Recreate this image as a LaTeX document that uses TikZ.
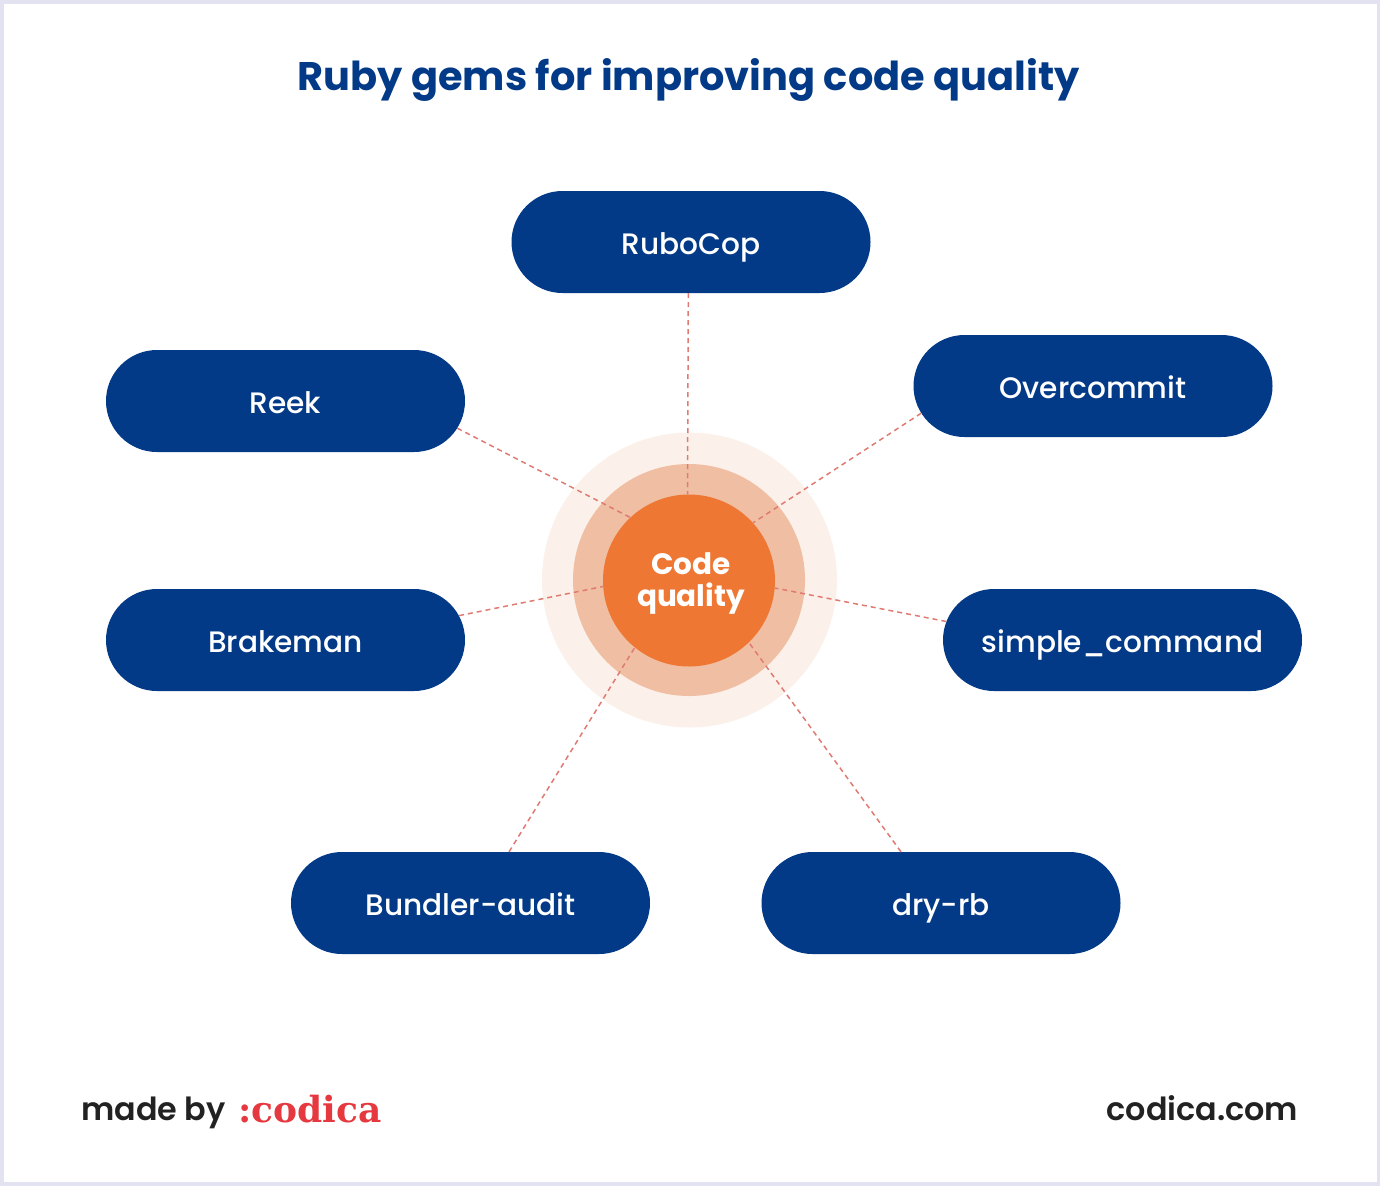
\documentclass[tikz,border=0pt]{standalone}
\usepackage{fontspec}
\usepackage{tikz}
\usetikzlibrary{positioning}
\usetikzlibrary{shapes.misc}
\setmainfont{Poppins}
\newfontfamily\gemfont{Poppins Medium}
\newfontfamily\footfont{Poppins SemiBold}
\newfontfamily\logofont{DejaVu Serif}
\definecolor{frameblue}{HTML}{E3E2F0}
\definecolor{gemblue}{HTML}{033A87}
\definecolor{coreorange}{HTML}{EE7733}
\definecolor{midorange}{HTML}{F0BEA2}
\definecolor{paleorange}{HTML}{FBF1EA}
\definecolor{linkred}{HTML}{E07B73}
\definecolor{logored}{HTML}{E5383F}
\definecolor{darktext}{HTML}{222222}
\tikzset{
  gem/.style={rounded rectangle, fill=gemblue, text=white, minimum width=359pt, minimum height=102pt, inner sep=0pt, text height=33pt, text depth=8pt, font=\gemfont\fontsize{29.6}{34}\selectfont},
  ring/.style={circle, inner sep=0pt},
  link/.style={draw=linkred, dashed, dash pattern=on 5pt off 4pt, line width=1.5pt},
  foot/.style={text=darktext, inner sep=0pt, font=\footfont\fontsize{31.8}{38}\selectfont}
}
\begin{document}
\begin{tikzpicture}[x=1pt,y=-1pt]
        \useasboundingbox (0,0) rectangle (1380,1186);
        \fill[frameblue] (0,0) rectangle (1380,1186);
        \fill[white] (4,4) rectangle (1377,1182);

        \node[anchor=base, text=gemblue, inner sep=0pt, font=\fontsize{39.9}{48}\selectfont\bfseries] (title) at (688.5,90) {Ruby gems for improving code quality};

        \node[ring, fill=paleorange, minimum size=295pt] (outer) at (689.5,580) {};
        \node[ring, fill=midorange, minimum size=232pt] (middle) at (689,580) {};
        \node[ring, fill=coreorange, minimum size=172pt] (core) at (689,580.5) {};
        \node[text=white, inner sep=0pt, align=center, font=\fontsize{29.5}{32}\selectfont\bfseries] (corelabel) at (691,583) {Code\\quality};

        \node[gem] (rubocop) at (691,242) {RuboCop};
        \node[gem] (overcommit) at (1093,386) {Overcommit};
        \node[gem] (simple) at (1122.5,640) {simple\_command};
        \node[gem] (dry) at (941,903) {dry-rb};
        \node[gem] (bundler) at (470.5,903) {Bundler-audit};
        \node[gem] (brakeman) at (285.5,640) {Brakeman};
        \node[gem] (reek) at (285.5,401) {Reek};

        % Edge
        \draw[link] (rubocop.-93) -- (core.91);
        \draw[link] (overcommit.189.4) -- (core.42.7);
        \draw[link] (simple.174.3) -- (core.-5.3);
        \draw[link] (dry.128.8) -- (core.-46.4);
        \draw[link] (bundler.53.3) -- (core.231.7);
        \draw[link] (brakeman.8.3) -- (core.184);
        \draw[link] (reek.-9.8) -- (core.133);

        \node[foot, anchor=base west] (made) at (81,1120) {made by};
        \node[anchor=base west, inner sep=0pt, text=logored, font=\logofont\fontsize{36}{40}\selectfont\bfseries] (logo) at (238,1122) {:codica};
        \node[foot, anchor=base east] (site) at (1298.5,1120) {codica.com};
\end{tikzpicture}
\end{document}
